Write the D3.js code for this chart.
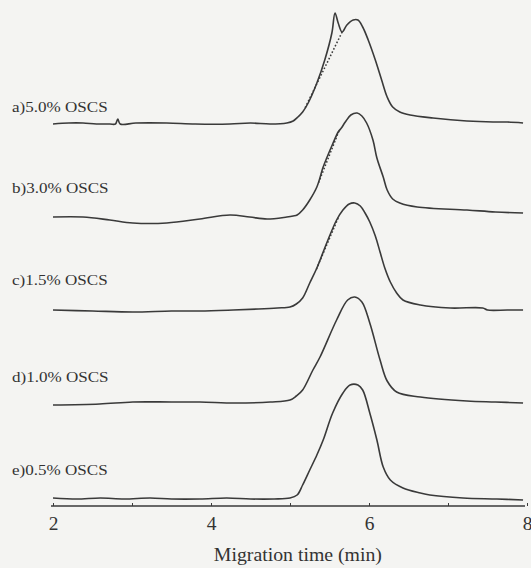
<!DOCTYPE html>
<html>
<head>
<meta charset="utf-8">
<script src="https://cdn.jsdelivr.net/npm/d3@7/dist/d3.min.js"></script>
<style>
  html, body { margin: 0; padding: 0; background: #f4f4f2; }
  svg { display: block; }
  text { font-family: "Liberation Serif", "Times New Roman", serif; fill: #333; }
</style>
</head>
<body>
<div id="chart"></div>
<script>
// ---------- data (time in min, signal in a.u. relative to each trace baseline) ----------
const seriesLabels = ["a)5.0% OSCS", "b)3.0% OSCS", "c)1.5% OSCS", "d)1.0% OSCS", "e)0.5% OSCS"];
const seriesOffsets = [382, 289, 196, 103, 7];   // vertical stacking offsets (a.u.)
const labelOffsets  = [394, 313, 221, 124, 31];  // a.u. position of each label baseline

const traceA = [
  [2.00,0],[2.20,1],[2.38,1],[2.55,0],[2.72,0],[2.79,0],[2.82,5],[2.85,0],[3.05,1],[3.44,1],[3.80,0],
  [4.24,0],[4.50,1],[4.75,0],[4.96,1],[5.04,3],[5.10,7],[5.16,12],[5.23,21],[5.34,41],[5.44,64],[5.53,91],
  [5.57,111],[5.61,101],[5.66,92],[5.72,99],[5.80,104],[5.86,104],[5.92,97],[5.99,84],[6.08,64],
  [6.16,44],[6.23,27],[6.30,17],[6.39,12],[6.52,9],[6.81,6],[7.24,3],[7.57,2],[7.75,2],[7.95,1]
];
const traceB = [
  [2.00,0],[2.38,0],[2.72,-3],[3.01,-6],[3.44,-6],[3.86,-2],[4.24,2],[4.49,0],[4.71,-2],[4.96,0],
  [5.04,1],[5.09,2],[5.16,7],[5.25,17],[5.34,30],[5.42,50],[5.47,60],[5.54,73],[5.61,85],[5.65,89],
  [5.70,95],[5.77,102],[5.85,104],[5.91,101],[5.97,94],[6.05,77],[6.10,59],[6.18,40],[6.23,27],
  [6.30,18],[6.39,14],[6.61,10],[7.24,7],[7.60,5],[7.95,4]
];
const traceC = [
  [2.00,0],[2.50,-1],[3.01,-2],[3.50,-1],[3.86,-1],[4.28,0],[4.60,1],[4.84,2],[5.00,3],[5.08,6],[5.16,12],
  [5.25,27],[5.34,42],[5.47,68],[5.59,90],[5.67,100],[5.75,106],[5.82,107],[5.89,104],[5.95,97],
  [6.01,88],[6.08,74],[6.14,58],[6.20,42],[6.27,28],[6.35,17],[6.43,10],[6.65,5],[7.03,2],[7.44,2],
  [7.50,0],[7.75,0],[7.95,0]
];
const traceD = [
  [2.00,-2],[2.59,-1],[3.01,1],[3.50,1],[3.86,1],[4.30,0],[4.75,1],[5.00,3],[5.08,7],[5.16,13],[5.29,33],
  [5.38,46],[5.59,83],[5.73,103],[5.82,106],[5.91,101],[6.01,80],[6.14,43],[6.23,22],[6.35,11],
  [6.65,6],[7.24,2],[7.60,1],[7.95,0]
];
const traceE = [
  [2.00,1],[2.30,0],[2.60,1],[2.90,0],[3.23,1],[3.50,0],[3.86,0],[4.20,1],[4.50,0],[4.80,0],
  [5.00,1],[5.09,4],[5.16,14],[5.25,29],[5.34,44],[5.42,59],[5.54,86],[5.67,106],[5.76,114],
  [5.86,114],[5.92,109],[6.01,86],[6.10,59],[6.18,32],[6.27,19],[6.43,11],[6.65,6],[6.77,4],
  [7.19,1],[7.62,0],[7.95,-1]
];
const traces = [traceA, traceB, traceC, traceD, traceE];

// dotted baseline-extrapolation segments (trace index, [t,v] start, [t,v] end)
const dottedSeries = [0, 1, 2];
const dottedSegments = [
  [[5.66,92],[5.19,16]],
  [[5.62,86],[5.36,34]],
  [[5.61,92],[5.33,40]]
];

const xTicks = [2,3,4,5,6,7,8];
const xTickLabels = ["2","","4","","6","","8"];
const xTitle = "Migration time (min)";

// ---------- layout ----------
const W = 531, H = 568;
const svg = d3.select("#chart").append("svg").attr("width", W).attr("height", H);

const x = d3.scaleLinear().domain([2, 8]).range([53, 527]);
const y = d3.scaleLinear().domain([0, 500]).range([506, 6]);

const ink = "#3a3a3a";

const line = d3.line()
  .x(d => x(d[0]))
  .curve(d3.curveCatmullRom.alpha(0.5));

traces.forEach((tr, i) => {
  const off = seriesOffsets[i];
  svg.append("path")
    .attr("d", line.y(d => y(d[1] + off))(tr))
    .attr("fill", "none")
    .attr("stroke", ink)
    .attr("stroke-width", 1.6)
    .attr("stroke-linejoin", "round");
});

dottedSegments.forEach((seg, k) => {
  const off = seriesOffsets[dottedSeries[k]];
  svg.append("line")
    .attr("x1", x(seg[0][0])).attr("y1", y(seg[0][1] + off))
    .attr("x2", x(seg[1][0])).attr("y2", y(seg[1][1] + off))
    .attr("stroke", ink)
    .attr("stroke-width", 1.5)
    .attr("stroke-dasharray", "1.6,2");
});

// series labels
seriesLabels.forEach((lab, i) => {
  svg.append("text")
    .attr("transform", `translate(12,${y(labelOffsets[i])}) scale(1.1,1)`)
    .attr("font-size", 15.5)
    .text(lab);
});

// x axis
const axis = d3.axisBottom(x)
  .tickValues(xTicks)
  .tickFormat((d, i) => xTickLabels[i])
  .tickSizeInner(-3)
  .tickSizeOuter(0)
  .tickPadding(11);

const gx = svg.append("g").attr("transform", `translate(0,${y(0)})`).call(axis);
gx.select(".domain").attr("stroke", ink).attr("stroke-width", 1.4).attr("d", `M${x(2)-2},0H${x(8)-2}`);
gx.selectAll(".tick line").attr("stroke", ink).attr("stroke-width", 1);
gx.selectAll(".tick text")
  .attr("font-family", "Liberation Serif, serif")
  .attr("font-size", 18)
  .attr("fill", "#333")
  .style("transform", "scaleX(1.08)");

svg.append("text")
  .attr("transform", `translate(${x(5.1)},561) scale(1.1,1)`)
  .attr("text-anchor", "middle")
  .attr("font-size", 18)
  .text(xTitle);
</script>
</body>
</html>
